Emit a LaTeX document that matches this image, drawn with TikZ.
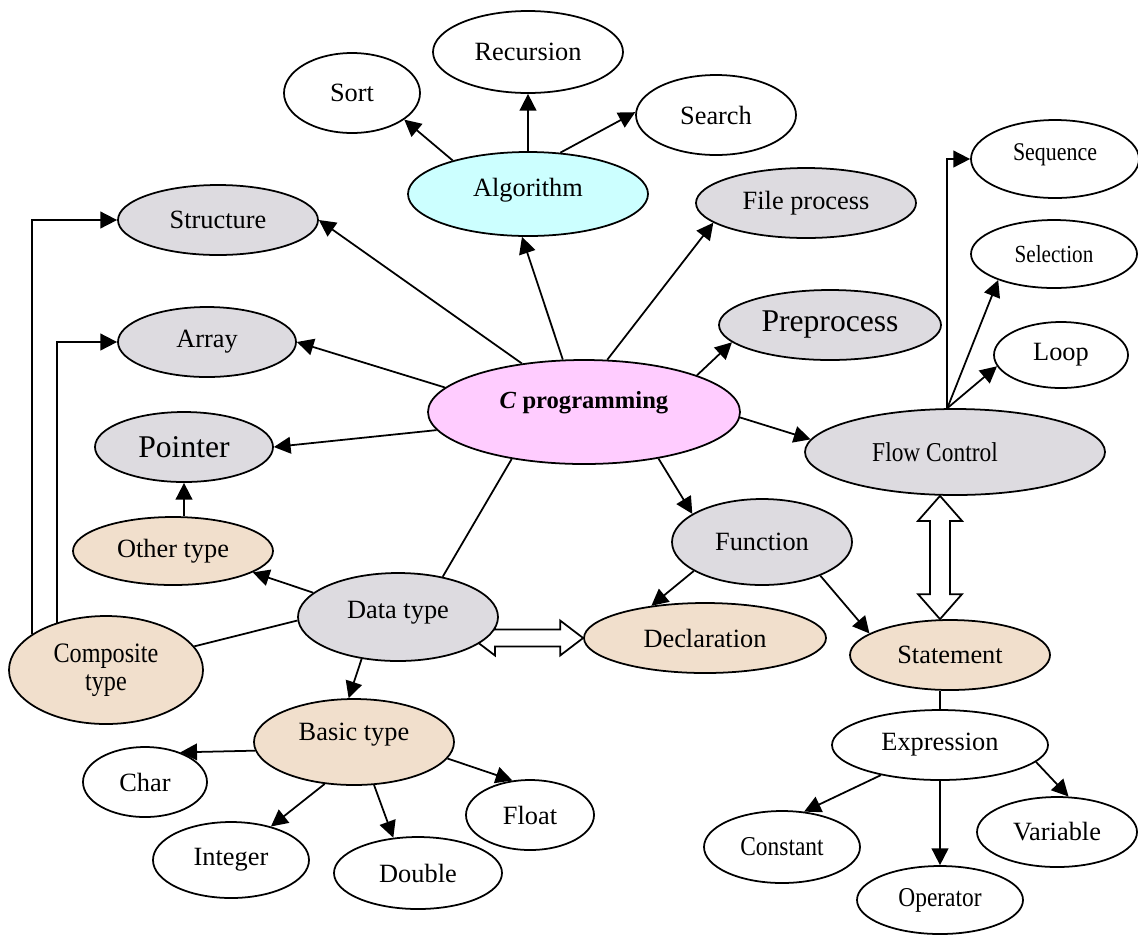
\documentclass[tikz,border=0pt]{standalone}
\usepackage{fontspec}
\setmainfont{Liberation Serif}
\newfontfamily\narrowfont{Liberation Serif}[FakeStretch=0.86]
\usetikzlibrary{shapes.geometric,arrows.meta,calc,backgrounds}
\definecolor{boxgray}{RGB}{221,219,224}
\definecolor{boxtan}{RGB}{241,223,204}
\definecolor{boxcyan}{RGB}{204,255,255}
\definecolor{boxpink}{RGB}{255,204,255}
\tikzset{
  bub/.style={ellipse,draw,line width=1pt,inner sep=0pt,font=\fontsize{15}{17}\selectfont},
  wh/.style={bub,fill=white},
  gr/.style={bub,fill=boxgray},
  tn/.style={bub,fill=boxtan},
  nar/.style={font=\narrowfont\fontsize{#1}{16}\selectfont},
  sz/.style 2 args={minimum width=#1*0.02cm,minimum height=#2*0.02cm},
  link/.style={line width=1pt,-{Triangle[length=9.5pt,width=9.5pt]}},
  plain/.style={line width=1pt},
  hollow/.style={line width=1pt,fill=white,line join=miter},
}

\begin{document}
\begin{tikzpicture}[x=0.02cm,y=-0.02cm]
\useasboundingbox (0,0) rectangle (1138,934);

% centre
\node[bub,fill=boxpink,sz={312}{104},text depth=13.6pt,font=\bfseries\fontsize{14}{16}\selectfont] (cp) at (584,412) {\textit{C} programming};

% top
\node[bub,fill=boxcyan,sz={240}{84},text depth=8pt] (alg) at (528,194) {Algorithm};
\node[wh,sz={136}{80}] (sort) at (352,93) {Sort};
\node[wh,sz={190}{82}] (rec) at (528,52) {Recursion};
\node[wh,sz={160}{80}] (srch) at (716,115) {Search};
\node[gr,sz={220}{70}] (file) at (806,203) {File process};
\node[gr,sz={222}{70},font=\fontsize{18}{20}\selectfont] (prep) at (830,325) {Preprocess};

% left
\node[gr,sz={200}{70}] (strc) at (218,220) {Structure};
\node[gr,sz={178}{70}] (arr) at (207,342) {Array};
\node[gr,sz={178}{70},font=\fontsize{18}{20}\selectfont] (ptr) at (184,447) {Pointer};
\node[tn,sz={200}{68}] (oth) at (173,551) {Other type};
\node[gr,sz={200}{88},text depth=8pt] (dat) at (398,617) {Data type};
\node[tn,sz={194}{108},align=center,nar=16] (comp) at (106,670) {Composite\\type};

% right
\node[gr,sz={300}{86},nar=15.5] (flow) at (955,452) {Flow Control\hspace*{0.8cm}};
\node[wh,sz={168}{78},text depth=8pt,nar=14.5] (seq) at (1055,159) {Sequence};
\node[wh,sz={166}{68},nar=14] (sel) at (1054,254) {Selection};
\node[wh,sz={134}{66}] (loop) at (1061,355) {Loop};
\node[gr,sz={180}{86}] (func) at (762,542) {Function};
\node[tn,sz={242}{70}] (decl) at (705,638) {Declaration};
\node[tn,sz={200}{70}] (stmt) at (950,655) {Statement};

% bottom
\node[tn,sz={200}{86},text depth=12pt] (bas) at (354,742) {Basic type};
\node[wh,sz={124}{70}] (chr) at (145,782) {Char};
\node[wh,sz={156}{76}] (int) at (231,860) {Integer};
\node[wh,sz={168}{72}] (dbl) at (418,873) {Double};
\node[wh,sz={128}{70}] (flt) at (530,815) {Float};
\node[wh,sz={216}{70}] (expr) at (940,745) {Expression};
\node[wh,sz={156}{72},nar=15.5] (cst) at (782,847) {Constant};
\node[wh,sz={166}{68},nar=15.5] (opr) at (940,900) {Operator};
\node[wh,sz={160}{70}] (var) at (1057,832) {Variable};

% from C programming
\foreach \a/\b in {112/alg.262, 142/strc.east, 66/file.192, 170/arr.east, 18/prep.190, 187/ptr.east, -2/flow.175, -32/func.158}
  \draw[link] (cp.\a) -- (\b);
\draw[plain] (cp.213) -- (dat.42);

% algorithm
\draw[link] (alg.156) -- (sort.-27);
\draw[link] (alg) -- (rec);
\draw[link] (alg.52) -- (srch.178);

% data type
\draw[link] (dat.164) -- (oth.-15);
\draw[plain] (dat.182) -- (comp.15);
\draw[link] (dat.229) -- (bas.97);
\draw[link] (oth.north -| ptr.south) -- (ptr.south);
\draw[link] (comp.154) |- (strc.west);
\draw[link] (comp.136) |- (arr.west);

% basic type
\foreach \a/\b in {185/chr.40, 235/int.40, 295/dbl.125, -10/flt.117}
  \draw[link] (bas.\a) -- (\b);

% function, statement
\draw[link] (func.203) -- (decl.149);
\draw[link] (func.-30) -- (stmt.165);
\draw[plain] (expr.north |- stmt.south) -- (expr.north);
\draw[link] (expr.207) -- (cst.58);
\draw[link] (expr.south) -- (opr.north);
\draw[link] (expr.-10) -- (var.72);

% flow control
\coordinate (fc) at (flow.100);
\draw[link] (fc) |- (seq.west);
\draw[link] (fc) -- (sel.205);
\draw[link] (fc) -- (loop.190);

% hollow double arrows
\begin{scope}[on background layer]
\path (dat.center) ++(74,21) coordinate (hl);
\coordinate (hr) at (decl.west);
\draw[hollow] (hl) -- ++(23,-17.5) -- ++(0,9) -- ($(hr)+(-23,-8.5)$) -- ++(0,-9) -- (hr)
  -- ++(-23,17.5) -- ++(0,-9) -- ($(hl)+(23,8.5)$) -- ++(0,9) -- cycle;
\end{scope}
\coordinate (vt) at ($(flow.south)+(-15,0)$);
\coordinate (vb) at ($(stmt.north)+(-10,0)$);
\draw[hollow] (vt) -- ++(-22,25) -- ++(12,0) -- ($(vb)+(-10,-25)$) -- ++(-12,0) -- (vb)
  -- ++(22,-25) -- ++(-12,0) -- ($(vt)+(10,25)$) -- ++(12,0) -- cycle;
\end{tikzpicture}
\end{document}
